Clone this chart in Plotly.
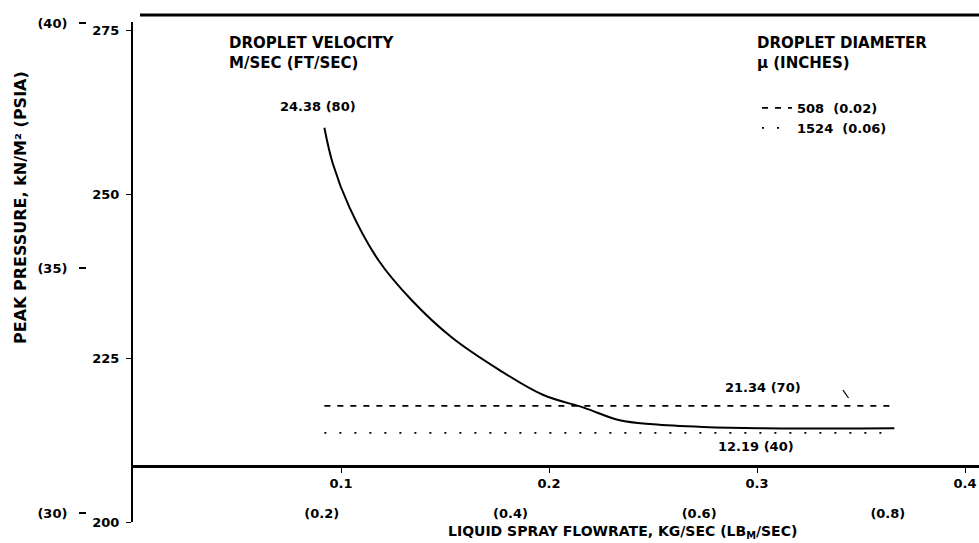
import plotly.graph_objects as go

# ---- data ----
flow_kg = [0.092, 0.096, 0.104, 0.118, 0.134, 0.153, 0.176, 0.197, 0.217, 0.234, 0.250, 0.274, 0.301, 0.366]
pressure_v80 = [260.1, 254.7, 248.0, 239.9, 233.8, 228.2, 223.2, 219.4, 217.4, 215.5, 214.9, 214.5, 214.3, 214.3]
flow_kg_flat = [0.092, 0.366]
pressure_v70 = [217.7, 217.7]
pressure_v40 = [213.6, 213.6]

y_kn_ticks = [200, 225, 250, 275]
y_kn_labels = ["200", "225", "250", "275"]
y_psi_ticks = [30, 35, 40]
y_psi_labels = ["(30)", "(35)", "(40)"]
x_kg_ticks = [0.1, 0.2, 0.3, 0.4]
x_kg_labels = ["0.1", "0.2", "0.3", "0.4"]
x_lb_ticks = [0.2, 0.4, 0.6, 0.8]
x_lb_labels = ["(0.2)", "(0.4)", "(0.6)", "(0.8)"]

KG_TO_LB = 2.20462

W, H = 979, 543
ML, MR, MT, MB = 40, 0, 22, 21
PW, PH = W - ML - MR, H - MT - MB

def px_x(p):
    return (p - ML) / PW

def px_y(p):
    return (H - MB - p) / PH

x_max = 0.4067
y_min, y_max = 200, 276.22

fig = go.Figure()

fig.add_trace(go.Scatter(
    x=flow_kg, y=pressure_v80, mode="lines", line=dict(color="black", width=2, shape="spline"),
    name="24.38 (80)", showlegend=False))
fig.add_trace(go.Scatter(
    x=flow_kg_flat, y=pressure_v70, mode="lines", line=dict(color="black", width=1.8, dash="6px,7px"),
    name="508  (0.02)"))
fig.add_trace(go.Scatter(
    x=flow_kg_flat, y=pressure_v40, mode="lines", line=dict(color="black", width=1.8, dash="2px,13px"),
    name="1524  (0.06)"))
# secondary (lb/s, psi) scales: an empty trace so that plotly builds that axis pair
fig.add_trace(go.Scatter(x=[], y=[], xaxis="x2", yaxis="y2", showlegend=False, hoverinfo="skip"))

fig.update_layout(
    width=W, height=H,
    margin=dict(l=ML, r=MR, t=MT, b=MB),
    paper_bgcolor="white", plot_bgcolor="white",
    font=dict(family="DejaVu Sans", size=13, color="black", weight="bold"),
    xaxis=dict(
        domain=[px_x(133), 1], range=[0, x_max], anchor="free", position=px_y(466),
        showline=True, linecolor="black", linewidth=2.5, showgrid=False, zeroline=False,
        tickvals=x_kg_ticks, ticktext=x_kg_labels, ticks="outside", ticklen=5, tickcolor="black",
        tickfont=dict(size=13)),
    xaxis2=dict(
        overlaying="x", domain=[px_x(133), 1], range=[0, x_max * KG_TO_LB], anchor="free",
        position=px_y(504), showline=False, showgrid=False, zeroline=False,
        tickvals=x_lb_ticks, ticktext=x_lb_labels, ticks="", tickfont=dict(size=13)),
    yaxis=dict(
        range=[y_min, y_max], anchor="x", showline=True, linecolor="black", linewidth=2,
        showgrid=False, zeroline=False, tickvals=y_kn_ticks, ticktext=y_kn_labels,
        ticks="outside", ticklen=5, tickcolor="black", tickfont=dict(size=13),
        ticklabelstandoff=4),
    yaxis2=dict(
        overlaying="y", anchor="free", position=px_x(86), side="left",
        range=[30 - 9 / 49.1, 40.03], showline=False, showgrid=False, zeroline=False,
        tickvals=y_psi_ticks, ticktext=y_psi_labels, ticks="outside", ticklen=7, tickwidth=1.5,
        tickcolor="black", tickfont=dict(size=13), ticklabelstandoff=9),
    legend=dict(
        x=px_x(757), y=px_y(93), xanchor="left", yanchor="top", bgcolor="rgba(0,0,0,0)",
        font=dict(size=13), itemwidth=30),
    showlegend=True,
)

fig.add_annotation(x=px_x(227), y=px_y(32), xref="paper", yref="paper", xanchor="left", yanchor="top",
                   align="left", showarrow=False, text="DROPLET VELOCITY<br>M/SEC (FT/SEC)",
                   font=dict(size=15))
fig.add_annotation(x=px_x(755), y=px_y(32), xref="paper", yref="paper", xanchor="left", yanchor="top",
                   align="left", showarrow=False, text="DROPLET DIAMETER<br>\u00b5 (INCHES)",
                   font=dict(size=15))
fig.add_annotation(x=flow_kg[0], y=pressure_v80[0], xref="x", yref="y", showarrow=False,
                   text="24.38 (80)", yanchor="bottom", yshift=12, xshift=-6, font=dict(size=13))
fig.add_annotation(x=0.3029, y=pressure_v70[0], xref="x", yref="y", showarrow=False,
                   text="21.34 (70)", yanchor="middle", yshift=18, font=dict(size=13))
fig.add_annotation(x=0.2995, y=pressure_v40[0], xref="x", yref="y", showarrow=False,
                   text="12.19 (40)", yanchor="middle", yshift=-14, font=dict(size=13))

fig.add_annotation(x=px_x(622), y=px_y(532), xref="paper", yref="paper", showarrow=False,
                   xanchor="center", yanchor="middle",
                   text="LIQUID SPRAY FLOWRATE, KG/SEC (LB<sub>M</sub>/SEC)", font=dict(size=14))
fig.add_annotation(x=px_x(20), y=px_y(208), xref="paper", yref="paper", showarrow=False,
                   xanchor="center", yanchor="middle", textangle=-90,
                   text="PEAK PRESSURE, kN/M\u00b2 (PSIA)", font=dict(size=16))

# leader from the 21.34 label to its line
fig.add_shape(type="line", xref="x", yref="y", x0=0.3413, y0=220.1, x1=0.3440, y1=218.9,
              line=dict(color="black", width=1.2))
# top border
fig.add_shape(type="line", xref="paper", yref="paper", x0=px_x(140), x1=1, y0=px_y(15), y1=px_y(15),
              line=dict(color="black", width=3))

fig.write_html("out.html", config={"displayModeBar": False},
               post_script="document.body.style.margin='0px';")
